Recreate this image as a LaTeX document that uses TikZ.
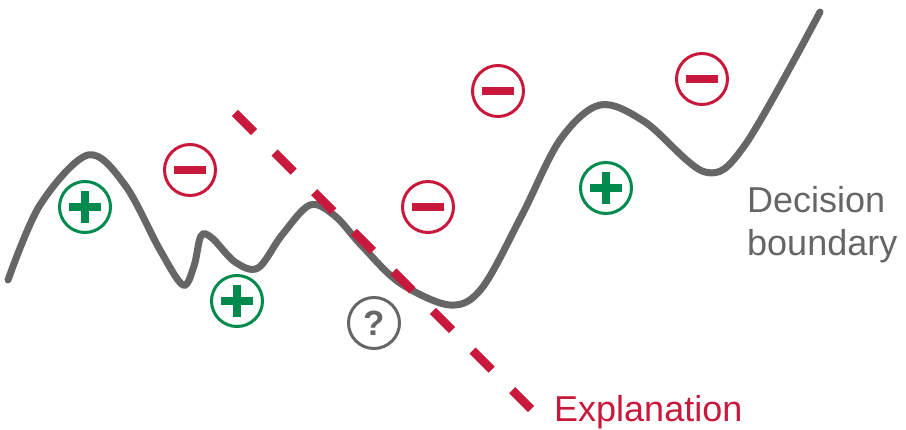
\documentclass[tikz,border=0pt]{standalone}
\usepackage{fontspec}
\setmainfont{Liberation Sans}
\definecolor{cred}{HTML}{C8193C}
\definecolor{cgreen}{HTML}{008A4E}
\definecolor{cgray}{HTML}{666666}
\begin{document}
\begin{tikzpicture}[x=1pt,y=-1pt,
  symbox/.style={circle,draw,line width=3pt,minimum size=51pt,inner sep=0pt},
  possym/.style={symbox,draw=cgreen},
  negsym/.style={symbox,draw=cred},
  lbl/.style={font=\fontsize{36}{43}\selectfont,inner sep=0pt,align=left}]
\useasboundingbox (0,0) rectangle (906,430);
% decision boundary
\draw[cgray,line width=7pt,line cap=round] plot[smooth,tension=0.55] coordinates {
 (8,280) (40,205) (88,155) (125,185) (160,250) (183,285) (194,266) (201,236) (212,238) (235,262) (258,268) (282,235) (310,205) (335,216) (362,246) (400,283) (450,305) (482,288) (522,215) (560,140) (600,105) (645,122) (705,172) (745,145) (820,12)};
% explanation line
\coordinate (e1) at (235,113);
\coordinate (e2) at (531,409);
\draw[cred,line width=8.5pt,dash pattern=on 27pt off 29pt] (e1) -- (e2);
% symbols
\node[possym] (p1) at (85,207) {};
\node[possym] (p2) at (237,301) {};
\node[possym] (p3) at (606,188) {};
\node[negsym] (m1) at (190,170) {};
\node[negsym] (m2) at (428,207) {};
\node[negsym] (m3) at (498,91) {};
\node[negsym] (m4) at (702,79) {};
\node[symbox,draw=cgray,text=cgray,font=\bfseries\fontsize{35}{40}\selectfont] (q) at (374,323) {?};
\foreach \n in {p1,p2,p3}{
  \fill[cgreen] ([xshift=-16pt,yshift=-4pt]\n.center) rectangle ([xshift=16pt,yshift=4pt]\n.center);
  \fill[cgreen] ([xshift=-4pt,yshift=-16pt]\n.center) rectangle ([xshift=4pt,yshift=16pt]\n.center);}
\foreach \n in {m1,m2,m3,m4}{
  \fill[cred] ([xshift=-16pt,yshift=-4pt]\n.center) rectangle ([xshift=16pt,yshift=4pt]\n.center);}
% labels
\node[lbl,text=cgray,anchor=west] (db) at (747,225) {Decision\\boundary};
\node[lbl,text=cred,anchor=base west] (ex) at (554,422) {Explanation};
\end{tikzpicture}
\end{document}
